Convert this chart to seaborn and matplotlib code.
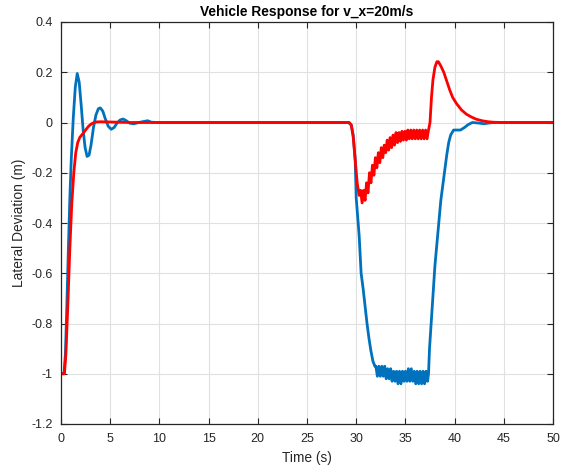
import matplotlib
matplotlib.use("Agg")
import matplotlib.pyplot as plt
import seaborn as sns
import pandas as pd

# ---- data ----
blue_t = [0, 0.3, 0.45, 0.6, 0.75, 0.9, 1.05, 1.25, 1.45, 1.65, 1.85, 2.05, 2.25, 2.45, 2.65, 2.85,
          3.05, 3.3, 3.55, 3.8, 4.0, 4.25, 4.5, 4.8, 5.1, 5.4, 5.7, 6.0, 6.3, 6.6, 7.0, 7.4, 7.9,
          8.4, 8.8, 9.2, 10.0, 29.2, 29.5, 29.7, 29.9, 30.0, 30.3, 30.5, 30.7, 30.9, 31.1, 31.3,
          31.5, 31.7, 31.9,
          32.0, 32.15, 32.3, 32.45, 32.6, 32.75, 32.9, 33.05, 33.2, 33.35, 33.5, 33.65, 33.8, 33.95,
          34.1, 34.25, 34.4, 34.55, 34.7, 34.85, 35.0, 35.15, 35.3, 35.45, 35.6, 35.75, 35.9, 36.05,
          36.2, 36.35, 36.5, 36.65, 36.8, 36.95, 37.1, 37.25,
          37.35, 37.45, 37.7, 38.0, 38.3, 38.6, 38.8, 39.0, 39.2, 39.4, 39.6, 39.9, 40.2, 40.6,
          41.0, 41.4, 41.8, 42.4, 43.0, 43.5, 44.0, 50.0]
blue_y = [-1.0, -1.0, -0.92, -0.72, -0.5, -0.3, -0.14, 0.02, 0.14, 0.195, 0.16, 0.07, -0.03, -0.1,
          -0.135, -0.13, -0.09, -0.02, 0.03, 0.055, 0.058, 0.045, 0.015, -0.015, -0.027, -0.02,
          -0.002, 0.01, 0.014, 0.008, -0.003, -0.005, 0.0, 0.004, 0.007, 0.001, 0.0, 0.0, -0.01,
          -0.05, -0.15, -0.3, -0.45, -0.6, -0.66, -0.73, -0.8, -0.86, -0.91, -0.95, -0.97,
          -0.97, -1.01, -0.97, -1.01, -0.97, -1.01, -0.97, -1.02, -0.98, -1.02, -0.98, -1.03, -0.99,
          -1.03, -0.99, -1.04, -0.99, -1.04, -0.99, -1.03, -0.99, -1.03, -0.98, -1.03, -0.98, -1.03,
          -0.99, -1.04, -0.99, -1.04, -0.99, -1.04, -0.99, -1.04, -0.99, -1.03,
          -1.0, -0.9, -0.75, -0.57, -0.44, -0.31, -0.25, -0.19, -0.13, -0.08, -0.05, -0.03, -0.03,
          -0.03, -0.02, -0.008, 0.0, -0.002, -0.005, -0.002, 0.0, 0.0]

red_t = [0, 0.35, 0.5, 0.7, 0.9, 1.1, 1.3, 1.5, 1.7, 1.9, 2.2, 2.5, 2.8, 3.1, 3.5, 4.0, 5.0, 7.0,
         29.3, 29.5, 29.7, 29.9, 30.1, 30.3,
         30.45, 30.6, 30.75, 30.9, 31.05, 31.2, 31.35, 31.5, 31.65, 31.8, 31.95, 32.1, 32.25, 32.4,
         32.55, 32.7, 32.85, 33.0, 33.15, 33.3, 33.45, 33.6, 33.75, 33.9, 34.05, 34.2, 34.35, 34.5,
         34.65, 34.8, 34.95, 35.1, 35.25, 35.4, 35.55, 35.7, 35.85, 36.0, 36.15, 36.3, 36.45, 36.6,
         36.75, 36.9, 37.05, 37.2,
         37.35, 37.5, 37.65, 37.8, 38.0, 38.2, 38.35, 38.6, 38.9, 39.2, 39.5, 39.8, 40.2, 40.7,
         41.2, 41.7, 42.2, 42.8, 43.4, 44.0, 45.0, 50.0]
red_y = [-1.0, -1.0, -0.92, -0.72, -0.5, -0.32, -0.2, -0.12, -0.08, -0.06, -0.045, -0.03, -0.015,
         -0.005, 0.002, 0.003, 0.002, 0.0,
         0.0, -0.01, -0.06, -0.15, -0.24, -0.29,
         -0.27, -0.32, -0.27, -0.31, -0.24, -0.28, -0.2, -0.24, -0.17, -0.21, -0.14, -0.18, -0.12,
         -0.16, -0.1, -0.14, -0.09, -0.12, -0.07, -0.11, -0.06, -0.1, -0.05, -0.09, -0.04, -0.08,
         -0.04, -0.075, -0.035, -0.07, -0.035, -0.07, -0.03, -0.065, -0.03, -0.065, -0.03, -0.065,
         -0.03, -0.065, -0.03, -0.065, -0.03, -0.065, -0.03, -0.065,
         -0.03, 0.0, 0.1, 0.17, 0.22, 0.242, 0.242, 0.225, 0.2, 0.165, 0.13, 0.1, 0.075, 0.05,
         0.033, 0.022, 0.013, 0.007, 0.003, 0.001, 0.0, 0.0]

x_ticks = [0, 5, 10, 15, 20, 25, 30, 35, 40, 45, 50]
y_ticks = [-1.2, -1.0, -0.8, -0.6, -0.4, -0.2, 0.0, 0.2, 0.4]
y_tick_labels = ["-1.2", "-1", "-0.8", "-0.6", "-0.4", "-0.2", "0", "0.2", "0.4"]

title = "Vehicle Response for v_x=20m/s"
x_label = "Time (s)"
y_label = "Lateral Deviation (m)"

# ---- style ----
sns.set_style("whitegrid")
plt.rcParams["font.family"] = ["Liberation Sans", "DejaVu Sans"]
plt.rcParams["axes.unicode_minus"] = False

dark = (0.15, 0.15, 0.15)

fig = plt.figure(figsize=(5.68, 4.70), dpi=100)
ax = fig.add_axes([61 / 568, 1 - 424 / 470, (553 - 61) / 568, (424 - 22) / 470])

blue_df = pd.DataFrame({"t": blue_t, "y": blue_y})
red_df = pd.DataFrame({"t": red_t, "y": red_y})
sns.lineplot(data=blue_df, x="t", y="y", ax=ax, color=(0, 0.447, 0.741), lw=2.0,
             sort=False, estimator=None)
sns.lineplot(data=red_df, x="t", y="y", ax=ax, color=(1, 0, 0), lw=2.0,
             sort=False, estimator=None)

ax.set_xlim(0, 50)
ax.set_ylim(-1.2, 0.4)
ax.set_xticks(x_ticks)
ax.set_xticklabels([str(v) for v in x_ticks])
ax.set_yticks(y_ticks)
ax.set_yticklabels(y_tick_labels)

ax.grid(True, color=(0.88, 0.88, 0.88), lw=0.8)
ax.set_axisbelow(True)
for s in ax.spines.values():
    s.set_visible(True)
    s.set_color(dark)
    s.set_linewidth(0.9)

ax.tick_params(axis="both", which="both", direction="in", length=4, width=0.8, color=dark,
               labelsize=9, labelcolor=dark, top=True, right=True, bottom=True, left=True)
ax.tick_params(axis="x", pad=6.5)
ax.tick_params(axis="y", pad=6)

ax.set_title(title, fontsize=9.9, fontweight="bold", color="black", pad=4)
ax.set_xlabel(x_label, fontsize=9.9, color=dark, labelpad=4)
ax.set_ylabel(y_label, fontsize=9.9, color=dark, labelpad=4)

fig.savefig("out.png", dpi=100)
